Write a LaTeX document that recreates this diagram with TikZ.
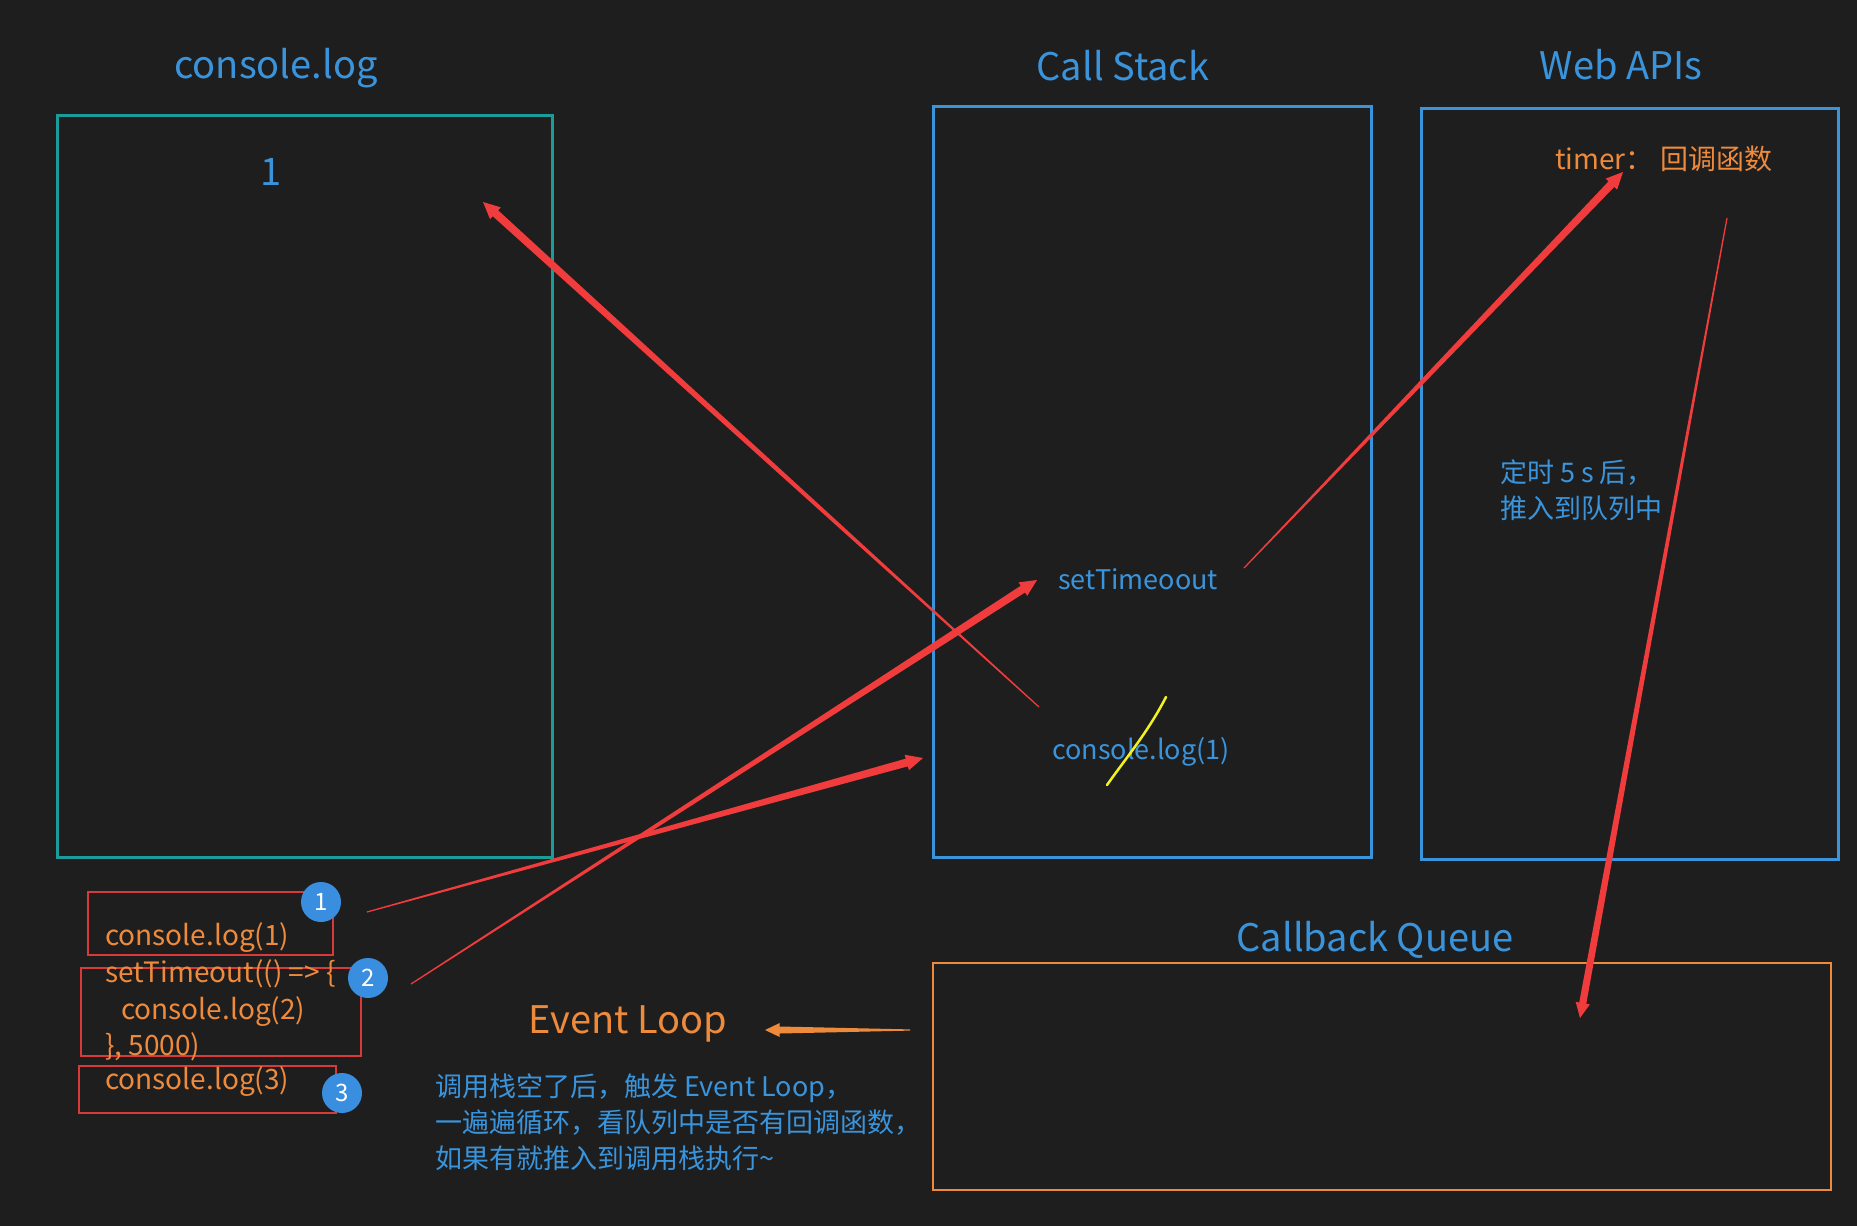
\documentclass[tikz,border=0pt]{standalone}
\usepackage{fontspec}
\setmainfont{Noto Sans CJK SC}
\usepackage{tikz}
\usetikzlibrary{calc}
\definecolor{LoopBg}{HTML}{1E1E1E}
\definecolor{LoopTeal}{HTML}{1C9C98}
\definecolor{LoopBlue}{HTML}{3A94DC}
\definecolor{LoopBadge}{HTML}{3A8EE0}
\definecolor{LoopOrange}{HTML}{EE8A3C}
\definecolor{LoopRed}{HTML}{F03C3C}
\definecolor{LoopBoxRed}{HTML}{D83A3A}
\definecolor{LoopYellow}{HTML}{F2F220}

% tapered arrow: style, start, tip, shaft half width (pt)
\newcommand{\taperarrow}[4]{%
  \pgfmathsetmacro\tahw{2*#4}\pgfmathsetmacro\tahl{4.2*#4}%
  \coordinate (tb) at ($(#3)!\tahl pt!(#2)$);
  \fill[#1] ($(#2)!0.6pt!90:(#3)$) -- ($(tb)!#4pt!-90:(#2)$) -- ($(tb)!\tahw pt!-90:(#2)$)
    -- (#3) -- ($(tb)!\tahw pt!90:(#2)$) -- ($(tb)!#4pt!90:(#2)$) -- ($(#2)!0.6pt!-90:(#3)$) -- cycle;
}

\begin{document}
\begin{tikzpicture}[x=1pt,y=-1pt,
    title/.style={text=LoopBlue,font=\fontsize{38}{46}\selectfont,anchor=base},
    bluetext/.style={text=LoopBlue,font=\fontsize{27}{36}\selectfont,anchor=base west,align=left,inner sep=0pt},
    codetext/.style={text=LoopOrange,font=\fontsize{28}{36}\selectfont,anchor=base west,inner sep=0pt},
    badge/.style={circle,fill=LoopBadge,text=white,minimum size=40pt,inner sep=0pt,font=\fontsize{24}{24}\selectfont},
    codebox/.style={draw=LoopBoxRed,line width=1.5pt}]
  \useasboundingbox (0,0) rectangle (1857,1226);
  \fill[LoopBg] (0,0) rectangle (1857,1226);

  % panels
  \draw[LoopTeal,line width=3pt] (57,115) rectangle (552,857);
  \draw[LoopBlue,line width=3pt] (933,106) rectangle (1371,857);
  \draw[LoopBlue,line width=3pt] (1421,108) rectangle (1838,859);
  \draw[LoopOrange,line width=1.8pt] (933,963) rectangle (1831,1190);

  \node[title] (logtitle) at (276,78) {console.log};
  \node[title] (stacktitle) at (1123,80) {Call Stack};
  \node[title] (webtitle) at (1621,79) {Web APIs};
  \node[title] (queuetitle) at (1375,951) {Callback Queue};
  \node[title,text=LoopOrange] (looptitle) at (628,1033) {Event Loop};

  \node[title] (output) at (271,185) {1};
  \node[codetext] (timer) at (1555,169) {timer：\ 回调函数};
  \node[bluetext] (settimer) at (1058,589) {setTimeoout};
  \node[bluetext] (logone) at (1052,759) {console.log(1)};
  \node[bluetext] (delay) at (1500,518) {定时 5 s 后，\\推入到队列中};
  \node[bluetext] (explain) at (435,1168) {调用栈空了后，触发 Event Loop，\\一遍遍循环，看队列中是否有回调函数，\\如果有就推入到调用栈执行\textasciitilde};

  % source code
  \draw[codebox] (88,892) rectangle (333,955);
  \draw[codebox] (81,968) rectangle (361,1056);
  \draw[codebox] (79,1066) rectangle (336,1113);
  \node[codetext] (codeA) at (105,945) {console.log(1)};
  \node[codetext] (codeB) at (105,982) {setTimeout(() => \{};
  \node[codetext] (codeC) at (121,1019) {console.log(2)};
  \node[codetext] (codeD) at (105,1055) {\}, 5000)};
  \node[codetext] (codeE) at (105,1089) {console.log(3)};
  \node[badge] (stepA) at (321,902) {1};
  \node[badge] (stepB) at (368,978) {2};
  \node[badge] (stepC) at (342,1093) {3};

  % arrow ends
  \coordinate (pushA) at (367,912);
  \coordinate (pushAend) at (923,758);
  \coordinate (pushB) at (411,984);
  \coordinate (pushBend) at (1037,580);
  \coordinate (printA) at (1039,707);
  \coordinate (printAend) at (483,202);
  \coordinate (regA) at (1244,568);
  \coordinate (regAend) at (1623,172);
  \coordinate (queueA) at (1727,218);
  \coordinate (queueAend) at (1580,1018);
  \coordinate (loopA) at (910,1030);
  \coordinate (loopAend) at (765,1030);

  \taperarrow{LoopRed}{pushA}{pushAend}{4}
  \taperarrow{LoopRed}{pushB}{pushBend}{4}
  \taperarrow{LoopRed}{printA}{printAend}{4}
  \taperarrow{LoopRed}{regA}{regAend}{4}
  \taperarrow{LoopRed}{queueA}{queueAend}{3.6}
  \taperarrow{LoopOrange}{loopA}{loopAend}{3.5}

  % strike mark
  \draw[LoopYellow,line width=2.5pt,line cap=round] (1166,697) .. controls (1148,732) and (1126,758) .. (1107,785);
\end{tikzpicture}
\end{document}
